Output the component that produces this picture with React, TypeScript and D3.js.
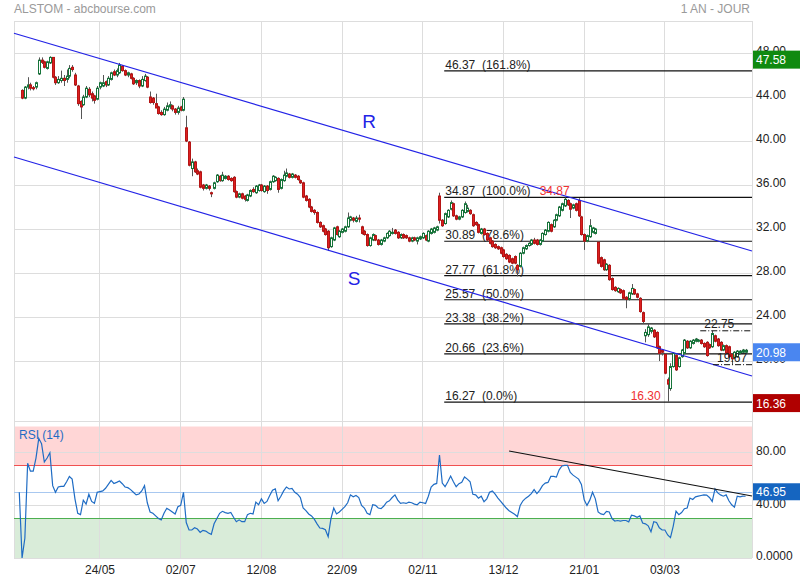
import React from 'react';
import * as d3 from 'd3';

const TITLE = 'ALSTOM - abcbourse.com';
const PERIOD = '1 AN - JOUR';
const FIRST_DAY = new Date(2021, 3, 14);
const TICK_DATES = ['2021-05-24', '2021-07-02', '2021-08-12', '2021-09-22', '2021-11-02', '2021-12-13', '2022-01-21', '2022-03-03'];
const PRICE_TICKS = [20, 24, 28, 32, 36, 40, 44, 48];
const RSI_TICKS = [0, 40, 80];

// open, high, low, close
const OHLC: number[][] = [
  [44.6, 44.7, 43.8, 43.9], [43.9, 45.0, 43.8, 44.9], [44.9, 45.8, 44.7, 45.1], [45.1, 45.3, 44.6, 44.8], [44.85, 45.0, 44.6, 44.75],
  [44.9, 45.4, 44.7, 45.3], [46.1, 47.6, 46.0, 47.35], [47.35, 47.6, 47.0, 47.15], [47.2, 47.3, 46.6, 46.7], [46.6, 47.3, 46.5, 47.2],
  [47.1, 47.7, 47.0, 47.6], [47.6, 47.6, 45.7, 45.8], [45.8, 45.9, 45.1, 45.3], [45.3, 45.9, 45.2, 45.6], [45.5, 46.4, 45.3, 45.7],
  [45.7, 46.0, 45.0, 45.5], [45.6, 46.5, 45.3, 45.9], [45.9, 46.9, 45.7, 46.6], [46.7, 46.9, 46.3, 46.5], [46.0, 46.2, 45.0, 45.1],
  [45.0, 45.1, 43.2, 43.4], [43.6, 43.7, 42.0, 43.1], [43.3, 44.2, 43.2, 44.0], [44.0, 45.0, 43.9, 44.8], [44.7, 44.9, 44.0, 44.2],
  [44.3, 44.5, 43.6, 43.9], [44.1, 44.2, 43.4, 43.7], [43.8, 45.0, 43.7, 44.8], [44.9, 45.4, 44.7, 45.3], [45.0, 46.0, 44.9, 45.3],
  [45.4, 45.5, 44.9, 45.1], [45.1, 45.9, 45.0, 45.7], [45.6, 46.3, 45.5, 46.2], [46.3, 46.5, 45.9, 46.0], [46.0, 46.6, 45.8, 46.4],
  [46.2, 47.1, 46.1, 46.9], [46.8, 46.9, 46.3, 46.4], [46.4, 46.5, 45.9, 46.0], [46.0, 46.3, 45.8, 46.2], [46.1, 46.2, 45.6, 45.7],
  [45.7, 45.8, 45.1, 45.2], [45.3, 45.6, 45.1, 45.5], [45.5, 45.6, 44.8, 45.0], [45.0, 45.9, 44.9, 45.6], [45.5, 46.1, 45.4, 45.9],
  [45.8, 45.9, 44.8, 44.9], [44.0, 44.5, 43.4, 43.5], [43.9, 44.0, 43.3, 43.5], [43.4, 44.3, 43.0, 43.0], [43.1, 43.2, 42.4, 42.5],
  [42.6, 42.8, 42.3, 42.4], [42.4, 43.1, 42.3, 42.9], [42.8, 43.5, 42.7, 43.2], [43.1, 43.6, 42.9, 43.3], [43.2, 43.3, 42.7, 42.9],
  [42.9, 43.0, 42.4, 42.6], [42.6, 43.2, 42.4, 43.0], [43.1, 43.2, 42.7, 42.8], [42.8, 44.0, 42.7, 43.8], [41.2, 42.3, 39.9, 40.0],
  [39.9, 40.0, 37.7, 37.8], [37.5, 38.4, 36.8, 38.1], [38.1, 38.2, 37.1, 37.2], [37.3, 37.5, 36.9, 37.0], [37.2, 37.3, 35.7, 35.8],
  [36.0, 36.1, 35.5, 35.7], [35.7, 36.1, 35.6, 36.0], [35.9, 36.0, 35.5, 35.7], [35.3, 35.4, 34.9, 35.2], [35.7, 36.3, 35.6, 36.2],
  [36.3, 37.0, 36.2, 36.9], [36.8, 36.9, 36.3, 36.4], [36.4, 37.2, 36.3, 36.9], [36.6, 36.9, 36.5, 36.8], [36.8, 36.9, 36.4, 36.5],
  [36.6, 36.7, 36.3, 36.4], [36.7, 36.8, 35.3, 35.4], [35.4, 35.5, 34.8, 34.9], [34.9, 35.3, 34.8, 35.2], [35.2, 35.3, 34.7, 34.8],
  [35.0, 35.1, 34.5, 34.7], [34.6, 35.2, 34.5, 35.1], [35.0, 35.6, 34.9, 35.5], [35.6, 35.8, 35.3, 35.4], [35.3, 36.0, 35.2, 35.9],
  [35.5, 36.1, 35.4, 36.0], [36.0, 36.1, 35.4, 35.5], [35.4, 36.0, 35.3, 35.9], [35.9, 36.0, 35.2, 35.5], [35.6, 36.4, 35.5, 36.3],
  [36.3, 36.9, 36.2, 36.8], [36.4, 36.8, 36.3, 36.7], [36.6, 36.7, 35.3, 35.6], [35.7, 36.6, 35.6, 36.5], [36.4, 37.3, 36.3, 36.9],
  [36.8, 37.5, 36.7, 37.1], [37.0, 37.1, 36.6, 36.7], [36.7, 37.1, 36.6, 37.0], [36.9, 37.0, 36.6, 36.7], [36.8, 36.9, 36.4, 36.5],
  [36.4, 36.5, 36.1, 36.2], [36.2, 36.3, 34.8, 34.9], [35.0, 35.1, 34.5, 34.6], [34.7, 34.8, 33.9, 34.0], [34.0, 34.1, 33.5, 33.6],
  [33.7, 33.8, 33.3, 33.5], [33.5, 33.6, 32.5, 32.6], [32.6, 32.7, 32.1, 32.2], [32.3, 32.4, 31.7, 31.8], [32.0, 32.1, 31.4, 31.5],
  [31.8, 31.9, 30.0, 30.3], [30.4, 31.3, 30.3, 31.2], [31.0, 32.2, 30.9, 32.1], [32.2, 32.3, 31.4, 31.5], [31.3, 31.9, 31.2, 31.8],
  [31.7, 32.1, 31.6, 32.0], [31.8, 32.3, 31.7, 32.2], [32.2, 33.5, 32.1, 33.0], [32.8, 33.2, 32.7, 33.1], [33.0, 33.1, 32.6, 32.8],
  [32.7, 33.2, 32.6, 33.0], [33.0, 33.3, 32.6, 32.9], [32.2, 32.3, 31.5, 31.6], [31.8, 31.9, 31.4, 31.5], [31.5, 31.6, 30.4, 30.5],
  [30.5, 31.3, 30.4, 31.2], [31.0, 31.6, 30.9, 31.5], [31.4, 31.5, 30.9, 31.0], [31.0, 31.1, 30.5, 30.6], [30.6, 31.1, 30.5, 31.0],
  [30.9, 31.3, 30.8, 31.2], [31.2, 31.7, 31.1, 31.6], [31.4, 31.9, 31.3, 31.8], [31.6, 32.1, 31.5, 31.7], [31.9, 32.0, 31.5, 31.6],
  [31.7, 31.8, 31.1, 31.2], [31.2, 31.6, 31.1, 31.5], [31.5, 31.6, 31.1, 31.2], [31.4, 31.5, 31.1, 31.2], [31.2, 31.3, 30.8, 30.9],
  [30.9, 31.3, 30.8, 31.2], [31.2, 31.3, 30.9, 31.0], [30.9, 31.3, 30.6, 31.2], [31.1, 31.4, 31.0, 31.3], [31.2, 31.7, 31.1, 31.6],
  [31.4, 31.5, 30.9, 31.0], [30.9, 31.9, 30.8, 31.8], [31.6, 32.1, 31.5, 32.0], [31.7, 32.2, 31.6, 32.1], [31.9, 32.3, 31.8, 32.2],
  [35.0, 35.3, 32.5, 32.8], [32.8, 32.9, 32.2, 32.3], [32.5, 33.5, 32.4, 33.4], [33.1, 33.8, 33.0, 33.7], [33.8, 34.6, 33.7, 34.4],
  [34.3, 34.4, 33.1, 33.2], [33.2, 33.3, 32.8, 32.9], [32.9, 33.2, 32.8, 33.1], [33.1, 33.8, 33.0, 33.7], [33.5, 34.5, 33.4, 34.3],
  [33.6, 34.2, 33.5, 33.9], [33.7, 33.8, 33.3, 33.4], [33.3, 33.4, 32.2, 32.3], [32.6, 32.7, 32.3, 32.4], [32.4, 32.5, 31.6, 31.7],
  [31.6, 32.1, 31.5, 32.0], [32.0, 32.1, 31.4, 31.5], [31.6, 31.7, 30.9, 31.0], [31.2, 31.3, 30.6, 30.7], [30.9, 31.0, 30.3, 30.4],
  [30.6, 30.7, 30.2, 30.3], [30.4, 30.5, 30.1, 30.2], [30.3, 30.4, 29.7, 29.8], [30.1, 30.2, 29.4, 29.5], [29.7, 29.8, 29.2, 29.3],
  [29.6, 29.7, 28.9, 29.0], [29.3, 29.4, 28.8, 28.9], [29.5, 29.6, 28.8, 28.9], [28.7, 28.8, 27.7, 28.3], [28.6, 29.9, 28.5, 29.8],
  [29.8, 30.4, 29.7, 30.3], [30.2, 30.6, 30.1, 30.5], [30.5, 30.8, 30.4, 30.7], [30.6, 31.1, 30.5, 31.0], [31.0, 31.2, 30.6, 30.7],
  [31.0, 31.1, 30.5, 30.6], [30.6, 31.1, 30.5, 31.0], [30.9, 31.7, 30.8, 31.6], [31.5, 32.0, 31.4, 31.9], [31.8, 32.7, 31.7, 32.6],
  [32.4, 32.5, 31.7, 31.8], [32.2, 32.9, 32.1, 32.8], [32.8, 33.4, 32.7, 33.3], [33.2, 34.1, 33.1, 34.0], [33.7, 34.4, 33.6, 34.3],
  [34.1, 34.87, 34.0, 34.7], [34.6, 34.7, 34.1, 34.2], [34.3, 34.4, 33.0, 33.8], [33.9, 34.3, 33.8, 34.2], [34.3, 34.4, 33.6, 33.7],
  [34.6, 34.8, 33.1, 33.2], [33.1, 33.2, 31.4, 31.5], [31.5, 31.6, 30.1, 30.9], [30.9, 31.5, 30.8, 31.4], [31.3, 32.9, 31.2, 32.3],
  [31.7, 32.2, 31.6, 32.1], [31.6, 32.1, 31.5, 32.0], [30.8, 30.9, 28.8, 28.9], [29.4, 29.5, 28.5, 28.6], [29.2, 29.3, 28.2, 28.3],
  [28.3, 28.9, 28.2, 28.8], [28.7, 28.8, 27.3, 27.4], [27.5, 27.6, 26.4, 26.5], [26.7, 26.8, 26.3, 26.4], [26.3, 26.7, 26.2, 26.6],
  [26.5, 26.6, 26.1, 26.2], [26.4, 26.5, 25.6, 25.7], [25.8, 25.9, 24.8, 25.6], [25.6, 26.3, 25.5, 26.2], [26.1, 27.0, 26.0, 26.6],
  [26.5, 26.6, 26.0, 26.1], [26.1, 26.2, 25.7, 25.8], [25.7, 25.8, 24.4, 24.5], [24.4, 24.5, 23.4, 23.6], [22.3, 22.9, 21.7, 22.6],
  [22.4, 23.4, 22.2, 23.1], [22.7, 23.1, 22.5, 23.0], [22.8, 22.9, 22.1, 22.2], [22.6, 22.7, 21.1, 21.2], [21.3, 21.4, 20.0, 20.7],
  [21.0, 21.1, 20.5, 20.8], [20.6, 20.7, 18.8, 18.9], [18.3, 18.5, 16.3, 17.9], [17.5, 19.8, 17.3, 19.5], [19.5, 20.8, 19.4, 20.7],
  [20.5, 20.6, 19.1, 19.2], [19.5, 20.4, 19.4, 20.3], [20.4, 21.1, 20.3, 21.0], [20.7, 22.0, 20.6, 21.9], [21.8, 21.9, 21.1, 21.2],
  [21.2, 21.9, 21.1, 21.8], [21.6, 22.0, 21.5, 21.9], [21.8, 22.1, 21.7, 22.0], [21.8, 22.0, 21.7, 21.9], [21.9, 22.0, 21.5, 21.6],
  [21.6, 21.7, 21.2, 21.3], [21.7, 21.8, 20.4, 20.5], [21.5, 21.6, 21.1, 21.2], [21.3, 22.75, 21.2, 22.5], [22.3, 22.4, 21.7, 21.8],
  [22.0, 22.1, 21.3, 21.4], [21.7, 21.8, 20.9, 21.0], [21.0, 21.5, 20.9, 21.4], [21.4, 21.5, 20.6, 20.7], [21.3, 21.4, 20.3, 20.4],
  [20.6, 20.7, 19.67, 20.2], [20.3, 20.9, 20.2, 20.8], [20.4, 21.0, 20.3, 20.9], [20.7, 21.0, 20.6, 20.9], [20.8, 21.1, 20.7, 21.0],
  [20.8, 21.1, 20.7, 20.98],
];

// RSI(14), first value belongs to the bar before the first candle
const RSI_START = -1;
const RSI = [
  50, 0, 15, 72, 66, 66, 76, 91, 87, 73, 76, 80, 55, 50, 54, 54.5, 54.5, 58, 62, 60, 45, 34, 33, 44, 41, 48.5, 43, 41.6, 50, 50.5,
  51, 53, 56, 59, 56.7, 57.5, 58.5, 56.5, 54, 53.5, 52, 50, 48, 48.7, 51, 55, 42, 35, 34, 32, 30, 29, 34, 37.8, 36.5, 35, 33.5, 39, 40, 50,
  27, 21.3, 21.3, 23, 22, 19.5, 21, 20.5, 19, 18, 26, 30, 34, 35.5, 34.5, 34, 34.6, 31, 27.6, 29, 27.6, 27.6, 33, 34, 33.5, 42.5, 40.5, 45, 41.5, 43,
  47.5, 51.5, 52.5, 43.5, 47, 51, 54, 52.5, 53, 50, 48.5, 46, 38, 36, 33.5, 32, 29.5, 26, 22.8, 22.5, 21.5, 16.2, 30, 38, 33.5, 35, 37, 39, 42, 48,
  46.5, 47.5, 46, 40, 38, 34, 33, 40.5, 40, 38, 37.5, 39.5, 42.5, 43.5, 46, 48, 44, 41.5, 42, 41.5, 42.5, 42, 41, 40.5, 42.5, 42, 41.5, 47, 54, 56,
  56.7, 78.3, 57, 54.2, 58, 62.3, 58, 54.2, 56.5, 57.5, 61.6, 60, 58, 48.4, 48, 45.5, 47, 42.8, 45, 50, 51, 48.5, 45.6, 43, 40.5, 38, 36, 34.6, 33.2, 31.5,
  40, 43.5, 45.5, 47, 49, 52, 49, 51.5, 55, 57, 57.5, 62, 62, 61.5, 67, 70, 70.5, 70.5, 65, 63, 61.5, 60, 56, 44.3, 40, 44, 50, 45, 35, 33.5,
  33, 35.5, 35, 30, 28.1, 28.5, 28.1, 28.5, 28.5, 27.5, 32.5, 32, 31, 32, 26.6, 26, 24.5, 20, 27.6, 27, 23, 21.3, 21.3, 17.5, 15.5, 24.3, 35.7, 33, 34.6, 37.5,
  38, 45.6, 44.5, 46.5, 47, 47.5, 48, 47.8, 46, 43, 52.5, 49.5, 48, 47, 48, 43.5, 40.5, 38.7, 47, 46.5, 47, 46.95,
];

const FIB_VALUES = [46.37, 34.87, 30.89, 27.77, 25.57, 23.38, 20.66, 16.27];
const FIB_PCTS = ['161.8%', '100.0%', '78.6%', '61.8%', '50.0%', '38.2%', '23.6%', '0.0%'];
const FIB_FROM = 151.7; // bar index where the retracement starts

// trend channel, [bar index, price]
const CHANNEL_R = [[-2.9, 49.8], [262.3, 30.0]];
const CHANNEL_S = [[-2.9, 38.55], [262.3, 18.64]];
const CHANNEL_LABELS = [{ text: 'R', i: 124.7, v: 41.2 }, { text: 'S', i: 119.3, v: 26.9 }];
const RSI_TREND = [[175, 81.4], [262.3, 47.1]];

const MARKS = [{ text: '34.87', i: 195, v: 34.87 }, { text: '16.30', i: 232, v: 16.3 }];
const SWING_LEVELS = [{ v: 22.75, from: 243.7 }, { v: 19.67, from: 248.3 }];
const PRICE_TAGS = [{ v: 47.58, color: '#108a10' }, { v: 20.98, color: '#4a86f0' }, { v: 16.36, color: '#b00000' }];
const RSI_LAST = 46.95;

const W = 800;
const H = 580;
const LEFT = 14;
const RIGHT = 752;
const FONT = '"Liberation Sans", Arial, sans-serif';

export default function App() {
  const days = d3.timeDay
    .range(FIRST_DAY, new Date(2022, 6, 1))
    .filter(d => d.getDay() % 6 !== 0)
    .slice(0, OHLC.length);
  const fmtKey = d3.timeFormat('%Y-%m-%d');
  const fmtLabel = d3.timeFormat('%d/%m');

  const x = d3.scaleLinear().domain([-2.9, 262.3]).range([LEFT, RIGHT]);
  const y = d3.scaleLinear().domain([14.55, 50.91]).range([421, 21]);
  const yr = d3.scaleLinear().domain([0, 100]).range([558, 426.5]);

  const ticks = TICK_DATES.map(s => {
    const i = days.findIndex(d => fmtKey(d) === s);
    return { i, label: fmtLabel(days[i]) };
  });

  const rsiLine = d3.line<number>()
    .x((d, k) => x(k + RSI_START))
    .y(d => yr(d));

  const seg = (pts: number[][], sy: d3.ScaleLinear<number, number>) =>
    d3.line<number[]>().x(p => x(p[0])).y(p => sy(p[1]))(pts) || '';

  const grid = '#dddddd';
  const up = '#16743a';
  const down = '#de2020';

  return (
    <svg width={W} height={H} style={{ position: 'absolute', left: 0, top: 0, background: '#fff' }} fontFamily={FONT}>
      <text x={LEFT} y={13} fontSize={12} fill="#9a9a9a">{TITLE}</text>
      <text x={RIGHT - 2} y={13} fontSize={12} fill="#9a9a9a" textAnchor="end">{PERIOD}</text>

      {/* RSI zones */}
      <rect x={LEFT} y={yr(100)} width={RIGHT - LEFT} height={yr(70) - yr(100)} fill="rgba(255,0,0,0.16)" />
      <rect x={LEFT} y={yr(30)} width={RIGHT - LEFT} height={yr(0) - yr(30)} fill="rgba(0,128,0,0.15)" />

      {/* grid */}
      <g shapeRendering="crispEdges" stroke={grid} strokeWidth={1}>
        {ticks.map(t => (
          <line key={t.label} x1={x(t.i)} x2={x(t.i)} y1={21} y2={558} />
        ))}
        {PRICE_TICKS.map(v => (
          <line key={v} x1={LEFT} x2={RIGHT} y1={y(v)} y2={y(v)} />
        ))}
        {RSI_TICKS.map(v => (
          <line key={'r' + v} x1={LEFT} x2={RIGHT} y1={yr(v)} y2={yr(v)} />
        ))}
        <line x1={LEFT} x2={RIGHT} y1={21} y2={21} />
        <line x1={LEFT} x2={RIGHT} y1={421} y2={421} />
        <line x1={LEFT} x2={LEFT} y1={21} y2={558} />
        <line x1={RIGHT} x2={RIGHT} y1={21} y2={558} />
      </g>

      <g shapeRendering="crispEdges">
        <line x1={LEFT} x2={RIGHT} y1={yr(70)} y2={yr(70)} stroke="#f05050" />
        <line x1={LEFT} x2={RIGHT} y1={yr(30)} y2={yr(30)} stroke="#4caf50" />
        <line x1={LEFT} x2={RIGHT} y1={yr(50)} y2={yr(50)} stroke="#a8c8f0" />
      </g>

      {/* fibonacci */}
      <g>
        {FIB_VALUES.map((v, k) => (
          <g key={v}>
            <line x1={x(FIB_FROM)} x2={RIGHT} y1={y(v)} y2={y(v)} stroke="#111" strokeWidth={1.2} />
            <text x={x(FIB_FROM) + 1} y={y(v) - 2} fontSize={12} fill="#222" style={{ whiteSpace: 'pre' }}>
              {`${v.toFixed(2)}  (${FIB_PCTS[k]})`}
            </text>
          </g>
        ))}
      </g>

      {/* candles */}
      <g>
        {OHLC.map(([o, h, l, c], i) => {
          const cx = Math.round(x(i)) + 0.5;
          const isUp = c >= o;
          const top = y(Math.max(o, c));
          const bh = Math.max(1, Math.abs(y(o) - y(c)));
          return (
            <g key={i}>
              <line x1={cx} x2={cx} y1={y(h)} y2={y(l)} stroke="#555" strokeWidth={1} />
              <rect x={cx - 1} y={top} width={2} height={bh}
                fill={isUp ? '#fff' : down} stroke={isUp ? up : '#b51515'} strokeWidth={1} />
            </g>
          );
        })}
      </g>

      {/* channel */}
      <path d={seg(CHANNEL_R, y)} stroke="#2323e6" strokeWidth={1.2} fill="none" />
      <path d={seg(CHANNEL_S, y)} stroke="#2323e6" strokeWidth={1.2} fill="none" />
      {CHANNEL_LABELS.map(d => (
        <text key={d.text} x={x(d.i)} y={y(d.v)} fontSize={19} fill="#2323e6" textAnchor="middle">{d.text}</text>
      ))}

      {/* swing levels */}
      {SWING_LEVELS.map(d => (
        <g key={d.v}>
          <line x1={x(d.from)} x2={RIGHT} y1={y(d.v)} y2={y(d.v)} stroke="#111" strokeDasharray="6,2,1,2" />
          <text x={x(d.from) + 4} y={y(d.v) - 3} fontSize={12} fill="#222">{d.v.toFixed(2)}</text>
        </g>
      ))}

      {MARKS.map(d => (
        <text key={d.text} x={x(d.i) + (d.v > 30 ? 5 : -7)} y={y(d.v) - 2} fontSize={12} fill="#f03030" textAnchor="end">{d.text}</text>
      ))}

      {/* price axis */}
      {PRICE_TICKS.map(v => (
        <text key={v} x={RIGHT + 4} y={y(v) - 2} dy="0.35em" fontSize={12} fill="#222">{v.toFixed(2)}</text>
      ))}
      {PRICE_TAGS.map(t => (
        <g key={t.v}>
          <rect x={RIGHT + 1} y={y(t.v) - 7} width={W - RIGHT - 1} height={18} fill={t.color} />
          <text x={RIGHT + 4} y={y(t.v) + 6.5} fontSize={12} fill="#fff">{t.v.toFixed(2)}</text>
        </g>
      ))}

      {/* RSI */}
      <path d={rsiLine(RSI) || ''} stroke="#1f6cc4" strokeWidth={1.2} fill="none" />
      <path d={seg(RSI_TREND, yr)} stroke="#111" strokeWidth={1.1} fill="none" />
      <text x={19} y={439} fontSize={12} fill="#1f6cc4">RSI (14)</text>
      {RSI_TICKS.map(v => (
        <text key={v} x={RIGHT + 4} y={yr(v) - 2} dy="0.35em" fontSize={12} fill="#222">{v === 0 ? '0.0000' : v.toFixed(2)}</text>
      ))}
      <rect x={RIGHT + 1} y={yr(RSI_LAST) - 13} width={W - RIGHT - 1} height={17} fill="#1565c0" />
      <text x={RIGHT + 4} y={yr(RSI_LAST) - 0.5} fontSize={12} fill="#fff">{RSI_LAST.toFixed(2)}</text>

      {/* date axis */}
      {ticks.map(t => (
        <text key={t.label} x={x(t.i)} y={574} fontSize={12} fill="#222" textAnchor="middle">{t.label}</text>
      ))}
    </svg>
  );
}
